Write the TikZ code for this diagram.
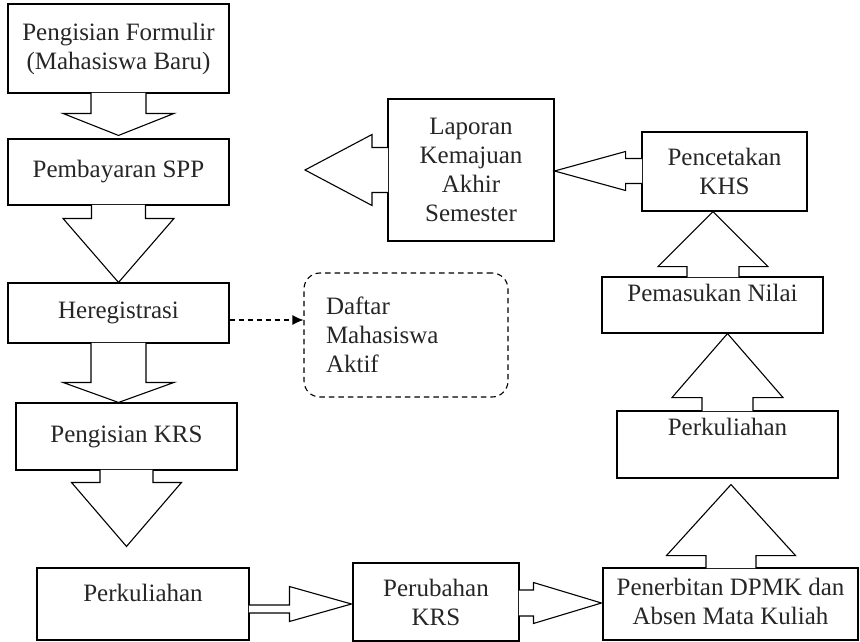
\documentclass[tikz,border=0pt]{standalone}
\usepackage{fontspec}
\setmainfont{Liberation Serif}
\usetikzlibrary{calc,arrows.meta}
\newcommand\lift[2]{\raisebox{#1}[\height][\depth]{#2}}
% vertical block arrow: #1 source, #2 tip, #3 shaft half, #4 head half, #5 head length, #6 dir (+1 down, -1 up)
\newcommand\vblk[6]{%
  \path[blk] let \p1=#1, \p2=#2 in
   ({\x2-#3pt},{\y1+(#6)*0.6pt}) -- ({\x2-#3pt},{\y2+(#6)*#5pt}) -- ({\x2-#4pt},{\y2+(#6)*#5pt}) -- (\x2,\y2)
   -- ({\x2+#4pt},{\y2+(#6)*#5pt}) -- ({\x2+#3pt},{\y2+(#6)*#5pt}) -- ({\x2+#3pt},{\y1+(#6)*0.6pt});}
% horizontal block arrow: #1 source, #2 tip, #3 shaft half, #4 head half, #5 head length, #6 dir (+1 left, -1 right), #7 shaft offset
\newcommand\hblk[7]{%
  \path[blk] let \p1=#1, \p2=#2 in
   ({\x1+(#6)*0.6pt},{\y2+(#7)*1pt+#3pt}) -- ({\x2+(#6)*#5pt},{\y2+(#7)*1pt+#3pt}) -- ({\x2+(#6)*#5pt},{\y2+#4pt}) -- (\x2,\y2)
   -- ({\x2+(#6)*#5pt},{\y2-#4pt}) -- ({\x2+(#6)*#5pt},{\y2+(#7)*1pt-#3pt}) -- ({\x1+(#6)*0.6pt},{\y2+(#7)*1pt-#3pt});}
\begin{document}
\begin{tikzpicture}[x=1pt,y=-1pt,
  font=\fontsize{25}{29}\selectfont,
  box/.style={draw, line width=1.1pt, inner sep=0pt, align=center, text=black!85},
  blk/.style={draw, fill=white, line width=1.1pt, line join=miter},
  dashbox/.style={draw, line width=1.1pt, rounded corners=16pt, dash pattern=on 5.5pt off 4pt, text=black!85},
  dasharrow/.style={line width=1.1pt, dash pattern=on 5pt off 4pt, -{Latex[length=11pt,width=10pt]}}]
\useasboundingbox (0,0) rectangle (860,642);

% left column
\node[box, minimum width=221pt, minimum height=89pt] (f1) at (118.5,48.5) {Pengisian Formulir\\(Mahasiswa Baru)};
\node[box, minimum width=221pt, minimum height=66pt] (f2) at (118.5,172) {Pembayaran SPP};
\node[box, minimum width=221pt, minimum height=60pt] (f3) at (118.5,313) {Heregistrasi};
\node[box, minimum width=221pt, minimum height=67pt] (f4) at (126.5,436.5) {Pengisian KRS};
\node[box, minimum width=212pt, minimum height=72pt] (f5) at (143,604) {\lift{11pt}{Perkuliahan}};

% bottom row
\node[box, minimum width=166pt, minimum height=78pt] (p) at (436,602) {Perubahan\\KRS};
\node[box, minimum width=255pt, minimum height=72pt] (q) at (730.5,604) {\lift{3pt}{Penerbitan DPMK dan}\\\lift{3pt}{Absen Mata Kuliah}};

% right column
\node[box, minimum width=221pt, minimum height=67pt] (r) at (727.5,444.5) {\lift{18pt}{Perkuliahan}};
\node[box, minimum width=221pt, minimum height=56pt] (s) at (712.5,305) {\lift{12pt}{Pemasukan Nilai}};
\node[box, minimum width=165pt, minimum height=79pt] (t) at (724.5,171.5) {Pencetakan\\KHS};
\node[box, minimum width=166pt, minimum height=142pt] (l) at (471,170) {Laporan\\Kemajuan\\Akhir\\Semester};
\coordinate (lout) at (305,170);

% dashed output
\node[dashbox, minimum width=204pt, minimum height=124pt, text width=160pt, inner xsep=22pt, align=left] (d) at (406,335) {Daftar\\Mahasiswa\\Aktif};
\coordinate (h1) at ($(f3.east)+(0,7)$);
\draw[dasharrow] (h1) -- (h1 -| d.west);

% block arrows
\vblk{(f1.south)}{($(f2.north)+(0,-3)$)}{27.5}{55.5}{22}{1}
\vblk{(f2.south)}{(f3.north)}{27}{55.5}{64}{1}
\vblk{(f3.south)}{($(f4.north)+(-8,0)$)}{27.5}{55.5}{20}{1}
\vblk{(f4.south)}{($(f5.north)+(-16.5,-21)$)}{26.5}{55}{64}{1}
\hblk{(f5.east)}{($(p.west)+(-1,2)$)}{4}{17.5}{62}{-1}{-5}
\hblk{(p.east)}{($(q.west)+(-1,-1)$)}{13}{20.5}{68}{-1}{0}
\vblk{(q.north)}{($(r.south)+(3.5,6)$)}{25}{64.5}{71}{-1}
\vblk{(r.north)}{($(s.south)+(15,0)$)}{25.5}{55.5}{64}{-1}
\vblk{(s.north)}{($(t.south)+(-11.5,0)$)}{26}{55}{55}{-1}
\hblk{(t.west)}{($(l.east)+(0,1)$)}{12.5}{19.5}{71}{1}{0}
\hblk{(l.west)}{(lout)}{22.5}{35.5}{67}{1}{0}
\end{tikzpicture}
\end{document}
